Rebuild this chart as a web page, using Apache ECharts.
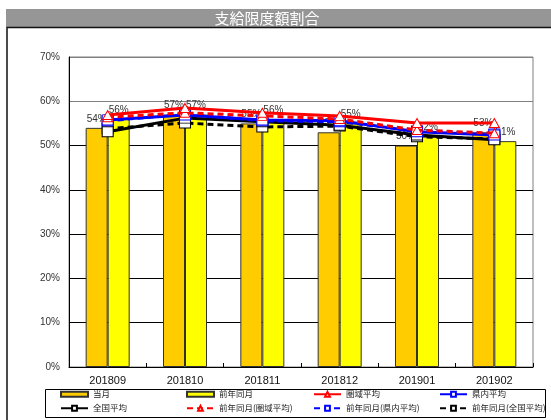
<!DOCTYPE html>
<html>
<head>
<meta charset="utf-8">
<script src="https://cdn.jsdelivr.net/npm/echarts@6/dist/echarts.min.js"></script>
<style>
  html, body { margin: 0; padding: 0; background: #fff; }
  #chart { width: 551px; height: 420px; }
</style>
</head>
<body>
<div id="chart"></div>
<script>
// 支給限度額割合 — monthly ratio (%) with regional averages
const categories = ['201809', '201810', '201811', '201812', '201901', '201902'];
const yTicks = [0, 10, 20, 30, 40, 50, 60, 70];

const currentMonth = [54, 57, 55, 53, 50, 53];          // 当月
const sameMonthLastYear = [56, 57, 56, 55, 52, 51];     // 前年同月
const areaAvg = [56.9, 58.5, 57.4, 56.7, 55.1, 55.1];   // 圏域平均
const prefAvg = [55.8, 56.9, 55.8, 55.6, 53.1, 52.4];   // 県内平均
const nationAvg = [53.1, 56.2, 55.4, 54.6, 52.4, 51.3]; // 全国平均
const areaAvgPrev = [56.4, 57.4, 56.7, 56.0, 53.5, 52.8];   // 前年同月(圏域平均)
const prefAvgPrev = [55.6, 57.1, 55.6, 55.4, 53.3, 52.6];   // 前年同月(県内平均)
const nationAvgPrev = [53.8, 55.1, 54.2, 54.4, 52.0, 51.5]; // 前年同月(全国平均)

const FONT = '"Liberation Sans", "Noto Sans CJK JP", sans-serif';
const JP = '"Noto Sans CJK JP", "Liberation Sans", sans-serif';

const chart = echarts.init(document.getElementById('chart'), null, { renderer: 'canvas' });

function barSeries(name, data, color) {
  return {
    name, type: 'bar', data, barWidth: 22, barGap: '0%', z: 2,
    itemStyle: { color, borderColor: '#333', borderWidth: 1 },
    label: {
      show: true, position: 'top', distance: 4,
      formatter: p => Math.round(p.value) + '%',
      fontFamily: FONT, fontSize: 10, color: '#333'
    }
  };
}

function lineSeries(name, data, color, dashed, symbol, z) {
  return {
    name, type: 'line', data, z,
    symbol, symbolSize: symbol === 'triangle' ? [10, 9] : [11, 10],
    showAllSymbol: true,
    lineStyle: { color, width: 3, type: dashed ? [6, 4] : 'solid' },
    itemStyle: { color: '#fff', borderColor: color, borderWidth: 1 }
  };
}

// [name, left, top, isBar]
const legendDefs = [
  ['当月', 60, 390, true],
  ['前年同月', 186, 390, true],
  ['圏域平均', 313, 390, false],
  ['県内平均', 439, 390, false],
  ['全国平均', 60, 404, false],
  ['前年同月(圏域平均)', 186, 404, false],
  ['前年同月(県内平均)', 313, 404, false],
  ['前年同月(全国平均)', 439, 404, false]
];

const option = {
  animation: false,
  backgroundColor: '#fff',
  grid: {
    left: 69, right: 18, top: 57, bottom: 53,
    show: true, borderColor: '#808080', borderWidth: 1, backgroundColor: '#fff'
  },
  xAxis: {
    type: 'category', data: categories,
    axisLine: { lineStyle: { color: '#000', width: 1 } },
    axisTick: { show: true, inside: true, length: 4, lineStyle: { color: '#000' } },
    axisLabel: { fontFamily: FONT, fontSize: 11, color: '#111', margin: 8 }
  },
  yAxis: {
    type: 'value', min: yTicks[0], max: yTicks[yTicks.length - 1], interval: 10,
    axisLine: { show: true, lineStyle: { color: '#000', width: 1 } },
    axisTick: { show: false },
    axisLabel: { formatter: '{value}%', fontFamily: FONT, fontSize: 10, color: '#333', margin: 9 },
    splitLine: { lineStyle: { color: ['#000', '#000', '#000', '#000', '#000', '#000', '#808080', '#808080'], width: 1 } }
  },
  legend: legendDefs.map(([name, left, top, isBar]) => ({
    data: isBar ? [{ name, icon: 'rect' }] : [name],
    left, top, orient: 'horizontal',
    itemWidth: 27, itemHeight: isBar ? 5 : 6, itemGap: 0, padding: 0,
    textStyle: { fontFamily: JP, fontSize: 8.5, color: '#222' },
    selectedMode: false
  })),
  series: [
    barSeries('当月', currentMonth, '#ffcc00'),
    barSeries('前年同月', sameMonthLastYear, '#ffff00'),
    lineSeries('前年同月(全国平均)', nationAvgPrev, '#000', true, 'rect', 4),
    lineSeries('全国平均', nationAvg, '#000', false, 'rect', 5),
    lineSeries('前年同月(県内平均)', prefAvgPrev, '#0000ff', true, 'rect', 6),
    lineSeries('県内平均', prefAvg, '#0000ff', false, 'rect', 7),
    lineSeries('前年同月(圏域平均)', areaAvgPrev, '#ff0000', true, 'triangle', 8),
    lineSeries('圏域平均', areaAvg, '#ff0000', false, 'triangle', 9)
  ],
  graphic: [
    // title bar
    { type: 'rect', left: 6, top: 9, shape: { width: 545, height: 18 }, style: { fill: '#969696' }, z: 0 },
    { type: 'text', x: 267, y: 18, style: { text: '支給限度額割合', fill: '#fff', font: '15px "Noto Sans CJK JP", sans-serif', textAlign: 'center', textVerticalAlign: 'middle' }, z: 1 },
    // chart frame
    { type: 'rect', x: 7, y: 27.5, shape: { width: 600, height: 450 }, style: { fill: 'none', stroke: '#111', lineWidth: 1.5 }, z: 0 },
    // legend frame
    { type: 'rect', x: 45.5, y: 389.5, shape: { width: 500, height: 28 }, style: { fill: 'none', stroke: '#000', lineWidth: 1 }, z: 0 }
  ]
};

chart.setOption(option);
</script>
</body>
</html>
